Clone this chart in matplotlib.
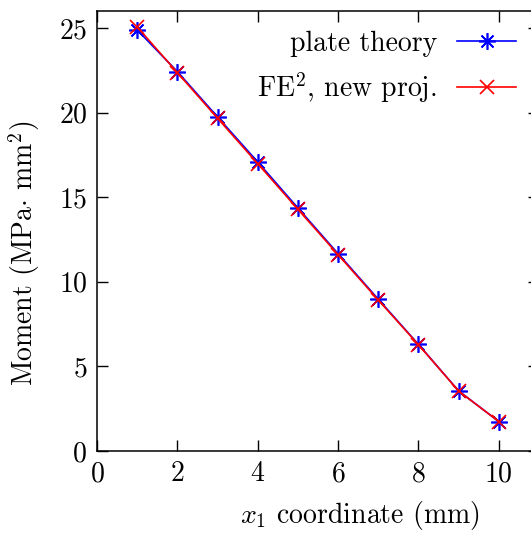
import matplotlib
matplotlib.use("Agg")
import matplotlib.pyplot as plt
import numpy as np

plt.rcParams["font.family"] = "serif"
plt.rcParams["font.serif"] = ["cmr10"]
plt.rcParams["mathtext.fontset"] = "cm"
plt.rcParams["axes.formatter.use_mathtext"] = True

# Bending moment along the plate
x_coord = [1, 2, 3, 4, 5, 6, 7, 8, 9, 10]
moment_plate = [24.88, 22.42, 19.74, 17.08, 14.36, 11.66, 8.97, 6.30, 3.55, 1.74]
moment_fe2 = [25.06, 22.36, 19.66, 16.98, 14.28, 11.60, 8.92, 6.28, 3.54, 1.74]

x_ticks = [0, 2, 4, 6, 8, 10]
y_ticks = [0, 5, 10, 15, 20, 25]

fig = plt.figure(figsize=(5.31, 5.34), dpi=100)
ax = fig.add_axes([97 / 531, 1 - 451 / 534, 442 / 531, 440 / 534])

ax.plot(x_coord, moment_plate, color="#0000ff", lw=1.2,
        marker=(8, 2, 0), ms=12, mew=1.2, label="plate theory")
ax.plot(x_coord, moment_fe2, color="#ff0000", lw=1.2,
        marker="x", ms=10, mew=1.2, label=r"FE$^2$, new proj.")

ax.set_xlim(0, 11)
ax.set_ylim(0, 26)
ax.set_xticks(x_ticks)
ax.set_yticks(y_ticks)

fs = 20
ax.tick_params(direction="in", length=8, width=1.0, top=True, right=True,
               labelsize=fs, pad=7)
for sp in ax.spines.values():
    sp.set_linewidth(1.1)

ax.set_xlabel(r"$x_1$ coordinate (mm)", fontsize=fs)
ax.set_ylabel(r"Moment (MPa$\cdot$ mm$^2$)", fontsize=fs)
ax.xaxis.set_label_coords(0.594, -0.11)
ax.yaxis.set_label_coords(-0.125, 0.45)

leg = ax.legend(loc="upper right", bbox_to_anchor=(0.948, 0.955), frameon=False,
                markerfirst=False, fontsize=fs, handlelength=2.12,
                handletextpad=0.72, labelspacing=0.47, borderaxespad=0.0,
                borderpad=0.0)

fig.savefig("out.png", dpi=100)
